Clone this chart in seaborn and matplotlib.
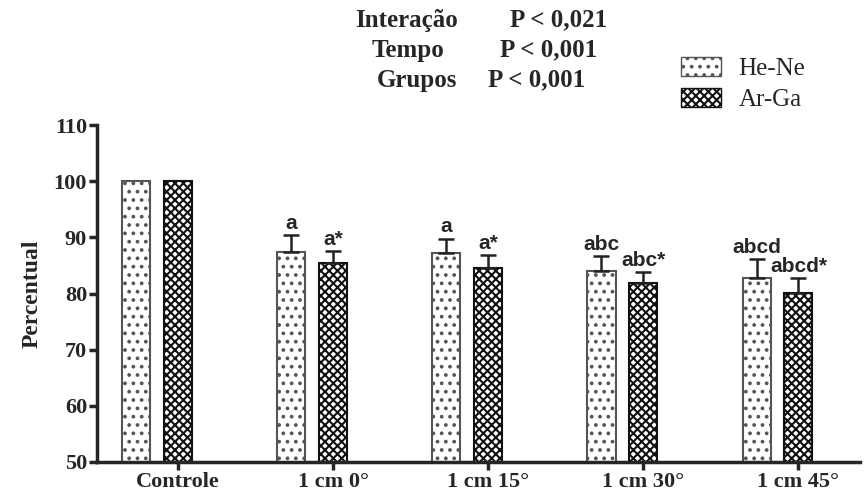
import pandas as pd
import matplotlib.pyplot as plt
import matplotlib.patches as mpatches
import seaborn as sns

# Valores
categorias = ['Controle', '1 cm 0°', '1 cm 15°', '1 cm 30°', '1 cm 45°']
grupos = ['He-Ne', 'Ar-Ga']
he_ne = [100, 87.4, 87.2, 84.1, 82.8]
ar_ga = [100, 85.5, 84.6, 81.9, 80.1]
he_ne_erro = [0, 3.0, 2.6, 2.6, 3.4]
ar_ga_erro = [0, 2.1, 2.3, 1.9, 2.7]
he_ne_letras = ['', 'a', 'a', 'abc', 'abcd']
ar_ga_letras = ['', 'a*', 'a*', 'abc*', 'abcd*']
yticks = [50, 60, 70, 80, 90, 100, 110]

df = pd.DataFrame({
    'Condicao': categorias * 2,
    'Grupo': [grupos[0]] * len(categorias) + [grupos[1]] * len(categorias),
    'Percentual': he_ne + ar_ga,
})

sns.set_style('ticks')
plt.rcParams['font.family'] = ['Liberation Serif', 'DejaVu Serif']
plt.rcParams['hatch.linewidth'] = 1.5

fig = plt.figure(figsize=(8.64, 4.95), dpi=100)
ax = fig.add_axes([0.112, 0.067, 0.883, 0.68])

sns.barplot(data=df, x='Condicao', y='Percentual', hue='Grupo', order=categorias,
            hue_order=grupos, width=0.54, gap=0.33, errorbar=None, ax=ax,
            legend=False)

estilos = [dict(hatch='..', edge='#555555'), dict(hatch='xxxx', edge='#111111')]
erros = [he_ne_erro, ar_ga_erro]
letras = [he_ne_letras, ar_ga_letras]
valores = [he_ne, ar_ga]
barras = list(ax.containers)
for k, cont in enumerate(barras):
    for i, bar in enumerate(cont.patches):
        bar.set_facecolor('white')
        bar.set_edgecolor(estilos[k]['edge'])
        bar.set_hatch(estilos[k]['hatch'])
        bar.set_linewidth(1.5)
        xc = bar.get_x() + bar.get_width() / 2
        if erros[k][i] > 0:
            ax.errorbar(xc, valores[k][i], yerr=[[0], [erros[k][i]]], fmt='none',
                        ecolor='#222222', elinewidth=1.8, capsize=6, capthick=1.8)
            ax.text(xc, valores[k][i] + erros[k][i] + 0.4, letras[k][i],
                    ha='center', va='bottom', fontsize=15, fontweight='bold',
                    family='Liberation Sans')

# ticks sob a barra Ar-Ga, como no original
centros = [b.get_x() + b.get_width() / 2 for b in barras[1].patches]
ax.set_xticks(centros)
ax.set_xticklabels(categorias, fontsize=16, fontweight='bold')
ax.set_xlim(-0.39, 4.53)
ax.set_ylim(50, 110)
ax.set_yticks(yticks)
ax.set_yticklabels([str(v) for v in yticks], fontsize=16, fontweight='bold')
ax.set_xlabel('')
ax.set_ylabel('Percentual', fontsize=17, fontweight='bold', labelpad=8)
sns.despine(ax=ax)
for s in ['left', 'bottom']:
    ax.spines[s].set_linewidth(2.5)
ax.tick_params(axis='both', width=2.5, length=6, pad=1)

# legenda
handles = [mpatches.Patch(facecolor='white', edgecolor=estilos[k]['edge'],
                          hatch=estilos[k]['hatch'], label=grupos[k]) for k in range(2)]
fig.legend(handles=handles, loc='upper left', bbox_to_anchor=(0.762, 0.93),
           frameon=False, fontsize=18, handlelength=1.6, handleheight=0.8,
           handletextpad=0.7, labelspacing=0.3)

# estatísticas
kw = dict(fontsize=18, fontweight='bold', va='center', ha='left')
fig.text(355 / 864, 1 - 20 / 495, 'Interação', **kw)
fig.text(510 / 864, 1 - 20 / 495, 'P < 0,021', **kw)
fig.text(372 / 864, 1 - 50 / 495, 'Tempo', **kw)
fig.text(500 / 864, 1 - 50 / 495, 'P < 0,001', **kw)
fig.text(377 / 864, 1 - 80 / 495, 'Grupos', **kw)
fig.text(488 / 864, 1 - 80 / 495, 'P < 0,001', **kw)

plt.savefig('out.png', dpi=100)
